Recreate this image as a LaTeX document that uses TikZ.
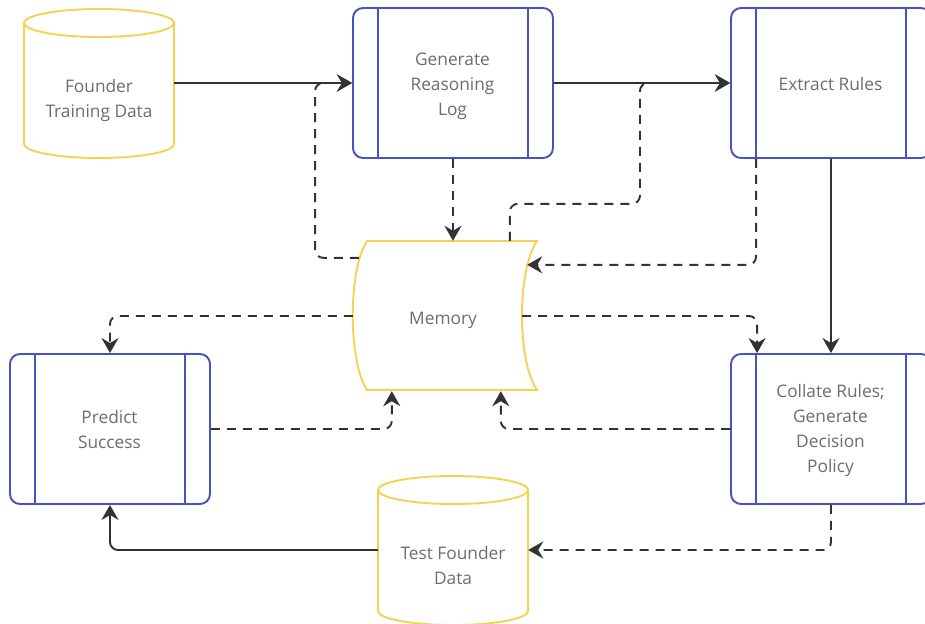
\documentclass[tikz,border=0pt]{standalone}
\usepackage{fontspec}
\setmainfont{Open Sans}
\usetikzlibrary{arrows.meta,calc}
\definecolor{boxblue}{RGB}{70,82,192}
\definecolor{cylyellow}{RGB}{246,210,80}
\definecolor{txtgray}{RGB}{108,108,116}
\definecolor{linegray}{RGB}{50,50,50}
\tikzset{
  procbox/.style={draw=boxblue, line width=1.9pt, rounded corners=10pt, fill=white,
    minimum width=200pt, minimum height=150pt, inner sep=0pt,
    path picture={
      \draw[boxblue, line width=1.9pt]
        ([xshift=25pt]path picture bounding box.north west) -- ([xshift=25pt]path picture bounding box.south west)
        ([xshift=-25pt]path picture bounding box.north east) -- ([xshift=-25pt]path picture bounding box.south east);
    }},
  shapearea/.style={draw=none, inner sep=0pt},
  lbl/.style={text=txtgray, align=center, font=\fontsize{17.3}{25}\selectfont},
  yellowline/.style={draw=cylyellow, line width=1.9pt, fill=white},
  conn/.style={draw=linegray, line width=1.9pt, rounded corners=8pt,
    -{Stealth[length=15pt,width=17pt,inset=5pt]}},
  dconn/.style={conn, dash pattern=on 9pt off 7pt},
}
\begin{document}
\begin{tikzpicture}[x=1pt,y=-1pt]
\clip (0,0) rectangle (925,623);
\fill[white] (0,0) rectangle (925,623);

% Founder Training Data cylinder
\node[shapearea, minimum width=150pt, minimum height=150pt] (ftd) at (99,83) {};
\path[yellowline] (24,23) -- (24,144)
  .. controls (24,151.7) and (57.6,158) .. (99,158)
  .. controls (140.4,158) and (174,151.7) .. (174,144) -- (174,23);
\draw[yellowline] (99,23) ellipse [x radius=75, y radius=14];
\node[lbl] (ftdtxt) at (99,100.5) {Founder\\Training Data};

% Test Founder Data cylinder
\node[shapearea, minimum width=150pt, minimum height=150pt] (test) at (453,550) {};
\path[yellowline] (378,490) -- (378,611)
  .. controls (378,618.7) and (411.6,625) .. (453,625)
  .. controls (494.4,625) and (528,618.7) .. (528,611) -- (528,490);
\draw[yellowline] (453,490) ellipse [x radius=75, y radius=14];
\node[lbl] (testtxt) at (453,565.5) {Test Founder\\Data};

% Memory
\node[shapearea, minimum width=184pt, minimum height=150pt] (mem) at (445,316) {};
\draw[yellowline] (367,241) -- (537,241)
  .. controls (517,270) and (517,361) .. (537,390) -- (367,390)
  .. controls (348,361) and (348,270) .. cycle;
\node[lbl] (memtxt) at (443,320) {Memory};

% Process boxes
\node[procbox] (gen) at (453,83) {};
\node[lbl] (gentxt) at (452.5,86.5) {Generate\\Reasoning\\Log};
\node[procbox] (ext) at (831,83) {};
\node[lbl] (exttxt) at (830.5,84) {Extract Rules};
\node[procbox] (col) at (831,429) {};
\node[lbl] (coltxt) at (830.5,430.5) {Collate Rules;\\Generate\\Decision\\Policy};
\node[procbox] (pred) at (110,429) {};
\node[lbl] (predtxt) at (109.5,429.5) {Predict\\Success};

% Connectors
\draw[conn] (ftd.east) -- (ftd.east -| gen.west);
\draw[conn] (gen.east) -- (ext.west);
\draw[conn] (ext.south) -- (col.north);
\draw[conn] (test.west) -| (pred.south);

\draw[dconn] (gen.south) -- (gen.south |- mem.north);
\draw[dconn] ($(mem.north west)+(6,17)$) -| ($(gen.west)+(-37,0)$) -- (gen.west);
\draw[dconn] ($(mem.north west)+(157,0)$) -- ($(mem.north west)+(157,-37)$)
  -| ($(gen.east)+(86,0)$) -- (ext.west);
\draw[dconn] ($(ext.south west)+(26,0)$) |- ($(mem.north east)+(-10,24)$);
\draw[dconn] (mem.west) -| (pred.north);
\draw[dconn] ($(mem.east)+(-15,0)$) -| ($(col.north west)+(27,0)$);
\draw[dconn] (pred.east) -| ($(mem.south west)+(39,0)$);
\draw[dconn] (col.west) -| ($(mem.south west)+(148,0)$);
\draw[dconn] (col.south) |- (test.east);
\end{tikzpicture}
\end{document}
